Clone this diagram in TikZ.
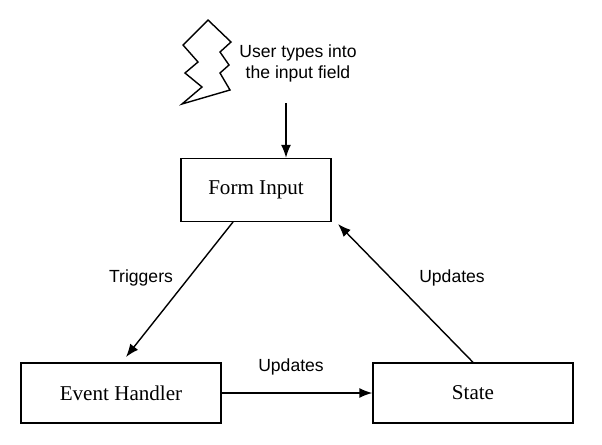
\documentclass[tikz,border=0pt]{standalone}
\usepackage{fontspec}
\newfontfamily\labelfont{Liberation Sans}
\newfontfamily\boxfont{Liberation Serif}
\usepackage{tikz}
\usetikzlibrary{arrows.meta}
\tikzset{
  block/.style={rectangle, draw = black, line width=0.8pt, minimum width = 3cm, minimum height = 1.2cm, font=\boxfont\large},
  link/.style={-{Latex[length=2.6mm,width=2mm]}, line width=0.8pt},
  edgelabel/.style={font=\labelfont, fill=white, inner sep=1pt}
}
\begin{document}
\begin{tikzpicture}[x=0.02cm, y=-0.02cm]
\useasboundingbox (0,0) rectangle (602,444);
% boxes
  \node[block, minimum width = 3cm, minimum height = 1.26cm] (form) at (256,190) {Form Input};
  \node[block, minimum width = 4cm, minimum height = 1.2cm] (handler) at (121,393) {Event Handler};
  \node[block, minimum width = 4cm, minimum height = 1.2cm] (state) at (473,393) {State};

% trigger
  \draw[line width=0.8pt, fill=white] (208,20) -- (231,42) -- (220,52) -- (229,65) -- (220,73) -- (230,90)
    -- (182,104) -- (202,87) -- (185,73) -- (198,62) -- (183,45) -- cycle;
  \node[font=\labelfont, align=center] (user) at (298,63) {User types into\\the input field};
  \coordinate (src) at (286,103);

% connectors
  \draw[link] (src) -- (form.north -| src);
  \draw[link] (233,222) coordinate (a) -- (126,357) coordinate (b);
  \draw[link] (state.north) -- (338,224);
  \draw[link] (handler.east) -- (state.west);

  \node[edgelabel] (trig) at (141,278) {Triggers};
  \node[edgelabel] (upd1) at (452,278) {Updates};
  \node[font=\labelfont] (upd2) at (291,367) {Updates};
\end{tikzpicture}
\end{document}
